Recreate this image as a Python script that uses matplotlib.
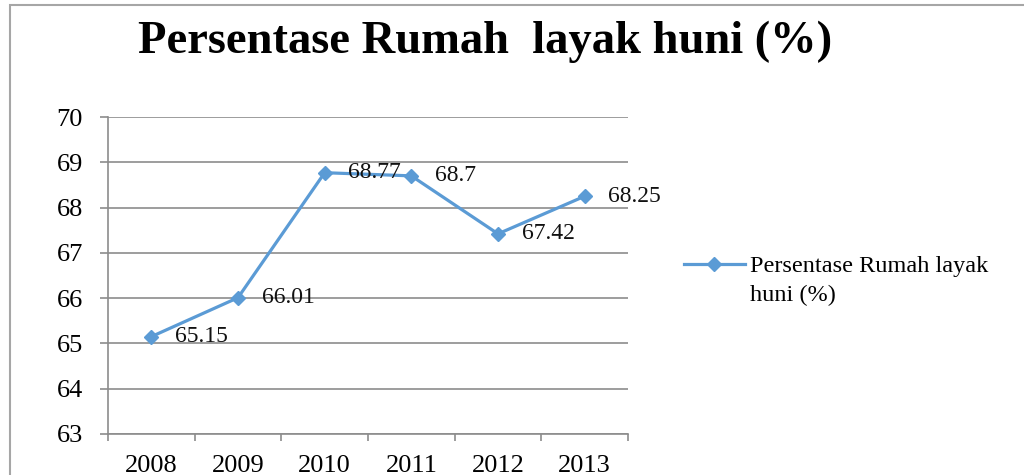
import matplotlib
matplotlib.use("Agg")
import matplotlib.pyplot as plt
from matplotlib.patches import Rectangle

years = ["2008", "2009", "2010", "2011", "2012", "2013"]
values = [65.15, 66.01, 68.77, 68.7, 67.42, 68.25]
value_labels = ["65.15", "66.01", "68.77", "68.7", "67.42", "68.25"]
y_ticks = [63, 64, 65, 66, 67, 68, 69, 70]
title = "Persentase Rumah  layak huni (%)"
legend_line1 = "Persentase Rumah layak"
legend_line2 = "huni (%)"

plt.rcParams["font.family"] = "Liberation Serif"
blue = "#5B9BD5"
grey = "#8c8c8c"

fig = plt.figure(figsize=(10.24, 4.75), dpi=100)
ax = fig.add_axes([108 / 1024, 41 / 475, 520 / 1024, 317 / 475])

x = [i + 0.5 for i in range(len(years))]
line, = ax.plot(x, values, color=blue, lw=2.3, marker="D", ms=7, zorder=3)
for xi, v, s in zip(x, values, value_labels):
    ax.annotate(s, (xi, v), xytext=(17, 0), textcoords="offset points",
                va="center", ha="left", fontsize=17, color="#111111", zorder=4)

ax.set_xlim(0, len(years))
ax.set_ylim(63, 70)
ax.set_yticks(y_ticks)
ax.set_xticks(range(len(years) + 1))
ax.set_xticklabels([])
ax.set_xticks(x, minor=True)
ax.set_xticklabels(years, minor=True)
ax.tick_params(axis="x", which="major", length=5, width=1.2, color=grey, direction="out")
ax.tick_params(axis="x", which="minor", length=0, pad=15, labelsize=19)
ax.tick_params(axis="y", length=6, width=1.2, color=grey, pad=12, labelsize=19)

ax.grid(axis="y", color=grey, lw=1.2)
ax.set_axisbelow(True)
for side in ("top", "right"):
    ax.spines[side].set_visible(False)
for side in ("left", "bottom"):
    ax.spines[side].set_color(grey)
    ax.spines[side].set_linewidth(1.2)

fig.text(485 / 1024, 1 - 42 / 475, title, ha="center", va="center",
         fontsize=33.5, fontweight="bold")

leg = fig.legend([line], [legend_line1], loc="center left",
                 bbox_to_anchor=(684 / 1024, 1 - 266 / 475), frameon=False,
                 fontsize=17.5, handlelength=2.5, handletextpad=0.2,
                 borderpad=0, borderaxespad=0)

fig.canvas.draw()
r = fig.canvas.get_renderer()
bb = leg.get_texts()[0].get_window_extent(r)
fig.text(bb.x0 / 1024, (bb.y0 - 29) / 475, legend_line2, ha="left", va="bottom",
         fontsize=17.5)

fig.patches.append(Rectangle((10 / 1024, -0.1), 1.2, 1.1 - 5 / 475,
                             transform=fig.transFigure, fill=False,
                             edgecolor="#a6a6a6", lw=1.5))

fig.savefig("out.png", dpi=100)
